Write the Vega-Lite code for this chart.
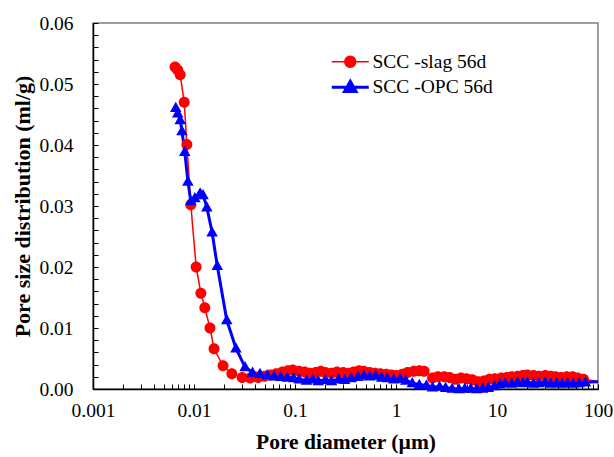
{
  "$schema": "https://vega.github.io/schema/vega-lite/v6.json",
  "width": 505,
  "height": 366,
  "autosize": "none",
  "padding": {"left": 93, "top": 23, "right": 16, "bottom": 68},
  "background": "white",
  "config": {
    "view": {"stroke": "#7f7f7f", "strokeWidth": 1.5},
    "font": "Liberation Serif",
    "axis": {
      "labelFont": "Liberation Serif",
      "titleFont": "Liberation Serif",
      "labelColor": "black",
      "titleColor": "black",
      "domainColor": "black",
      "domainWidth": 1.5,
      "tickColor": "black",
      "tickWidth": 1,
      "tickSize": -5,
      "grid": false
    },
    "legend": {
      "labelFont": "Liberation Serif",
      "labelFontSize": 19.5,
      "labelColor": "black",
      "padding": 0,
      "rowPadding": 2.5,
      "symbolOpacity": 1,
      "orient": "none",
      "legendX": 247.5,
      "legendY": 29,
      "symbolSize": 100,
      "labelOffset": 12.5
    }
  },
  "datasets": {
    "pts": [
      {"s": "SCC -slag 56d", "d": 0.0065, "v": 0.0528},
      {"s": "SCC -slag 56d", "d": 0.0069, "v": 0.0523},
      {"s": "SCC -slag 56d", "d": 0.0073, "v": 0.0515},
      {"s": "SCC -slag 56d", "d": 0.0080, "v": 0.0470},
      {"s": "SCC -slag 56d", "d": 0.0085, "v": 0.0401},
      {"s": "SCC -slag 56d", "d": 0.0093, "v": 0.0302},
      {"s": "SCC -slag 56d", "d": 0.0105, "v": 0.0200},
      {"s": "SCC -slag 56d", "d": 0.0117, "v": 0.0157},
      {"s": "SCC -slag 56d", "d": 0.0128, "v": 0.0133},
      {"s": "SCC -slag 56d", "d": 0.0144, "v": 0.0100},
      {"s": "SCC -slag 56d", "d": 0.0158, "v": 0.0066},
      {"s": "SCC -slag 56d", "d": 0.0194, "v": 0.0038},
      {"s": "SCC -slag 56d", "d": 0.0237, "v": 0.0025},
      {"s": "SCC -slag 56d", "d": 0.030, "v": 0.0019},
      {"s": "SCC -slag 56d", "d": 0.036, "v": 0.0018},
      {"s": "SCC -slag 56d", "d": 0.043, "v": 0.0019},
      {"s": "SCC -slag 56d", "d": 0.050, "v": 0.0021},
      {"s": "SCC -slag 56d", "d": 0.057, "v": 0.0023},
      {"s": "SCC -slag 56d", "d": 0.065, "v": 0.0025},
      {"s": "SCC -slag 56d", "d": 0.075, "v": 0.0028},
      {"s": "SCC -slag 56d", "d": 0.085, "v": 0.0030},
      {"s": "SCC -slag 56d", "d": 0.095, "v": 0.0031},
      {"s": "SCC -slag 56d", "d": 0.11, "v": 0.0029},
      {"s": "SCC -slag 56d", "d": 0.125, "v": 0.0028},
      {"s": "SCC -slag 56d", "d": 0.14, "v": 0.0026},
      {"s": "SCC -slag 56d", "d": 0.16, "v": 0.0027},
      {"s": "SCC -slag 56d", "d": 0.18, "v": 0.0029},
      {"s": "SCC -slag 56d", "d": 0.20, "v": 0.0027},
      {"s": "SCC -slag 56d", "d": 0.23, "v": 0.0026},
      {"s": "SCC -slag 56d", "d": 0.26, "v": 0.0028},
      {"s": "SCC -slag 56d", "d": 0.30, "v": 0.0027},
      {"s": "SCC -slag 56d", "d": 0.34, "v": 0.0026},
      {"s": "SCC -slag 56d", "d": 0.38, "v": 0.0028},
      {"s": "SCC -slag 56d", "d": 0.43, "v": 0.0030},
      {"s": "SCC -slag 56d", "d": 0.48, "v": 0.0029},
      {"s": "SCC -slag 56d", "d": 0.55, "v": 0.0027},
      {"s": "SCC -slag 56d", "d": 0.62, "v": 0.0026},
      {"s": "SCC -slag 56d", "d": 0.70, "v": 0.0025},
      {"s": "SCC -slag 56d", "d": 0.80, "v": 0.0024},
      {"s": "SCC -slag 56d", "d": 0.90, "v": 0.0023},
      {"s": "SCC -slag 56d", "d": 1.0, "v": 0.0022},
      {"s": "SCC -slag 56d", "d": 1.15, "v": 0.0024},
      {"s": "SCC -slag 56d", "d": 1.3, "v": 0.0027},
      {"s": "SCC -slag 56d", "d": 1.5, "v": 0.0029},
      {"s": "SCC -slag 56d", "d": 1.7, "v": 0.0030},
      {"s": "SCC -slag 56d", "d": 1.9, "v": 0.0029},
      {"s": "SCC -slag 56d", "d": 2.3, "v": 0.0018},
      {"s": "SCC -slag 56d", "d": 2.6, "v": 0.0020},
      {"s": "SCC -slag 56d", "d": 3.0, "v": 0.0020},
      {"s": "SCC -slag 56d", "d": 3.4, "v": 0.0019},
      {"s": "SCC -slag 56d", "d": 3.9, "v": 0.0016},
      {"s": "SCC -slag 56d", "d": 4.4, "v": 0.0018},
      {"s": "SCC -slag 56d", "d": 5.0, "v": 0.0017},
      {"s": "SCC -slag 56d", "d": 5.7, "v": 0.0015},
      {"s": "SCC -slag 56d", "d": 6.5, "v": 0.0012},
      {"s": "SCC -slag 56d", "d": 7.4, "v": 0.0013},
      {"s": "SCC -slag 56d", "d": 8.4, "v": 0.0016},
      {"s": "SCC -slag 56d", "d": 9.5, "v": 0.0017},
      {"s": "SCC -slag 56d", "d": 11, "v": 0.0018},
      {"s": "SCC -slag 56d", "d": 12.5, "v": 0.0019},
      {"s": "SCC -slag 56d", "d": 14, "v": 0.0020},
      {"s": "SCC -slag 56d", "d": 16, "v": 0.0021},
      {"s": "SCC -slag 56d", "d": 18, "v": 0.0022},
      {"s": "SCC -slag 56d", "d": 20, "v": 0.0023},
      {"s": "SCC -slag 56d", "d": 23, "v": 0.0022},
      {"s": "SCC -slag 56d", "d": 26, "v": 0.0021},
      {"s": "SCC -slag 56d", "d": 30, "v": 0.0022},
      {"s": "SCC -slag 56d", "d": 34, "v": 0.0021},
      {"s": "SCC -slag 56d", "d": 38, "v": 0.0020},
      {"s": "SCC -slag 56d", "d": 43, "v": 0.0019},
      {"s": "SCC -slag 56d", "d": 49, "v": 0.0020},
      {"s": "SCC -slag 56d", "d": 56, "v": 0.0020},
      {"s": "SCC -slag 56d", "d": 63, "v": 0.0018},
      {"s": "SCC -slag 56d", "d": 72, "v": 0.0016},
      {"s": "SCC -slag 56d", "d": 150, "v": 0.0008},
      {"s": "SCC -OPC 56d", "d": 0.0066, "v": 0.0461},
      {"s": "SCC -OPC 56d", "d": 0.0069, "v": 0.0452},
      {"s": "SCC -OPC 56d", "d": 0.0073, "v": 0.0441},
      {"s": "SCC -OPC 56d", "d": 0.0076, "v": 0.0423},
      {"s": "SCC -OPC 56d", "d": 0.0081, "v": 0.0389},
      {"s": "SCC -OPC 56d", "d": 0.0087, "v": 0.0340},
      {"s": "SCC -OPC 56d", "d": 0.0093, "v": 0.0308},
      {"s": "SCC -OPC 56d", "d": 0.0102, "v": 0.0313},
      {"s": "SCC -OPC 56d", "d": 0.0115, "v": 0.0321},
      {"s": "SCC -OPC 56d", "d": 0.0123, "v": 0.0318},
      {"s": "SCC -OPC 56d", "d": 0.0134, "v": 0.0298},
      {"s": "SCC -OPC 56d", "d": 0.0151, "v": 0.0257},
      {"s": "SCC -OPC 56d", "d": 0.0170, "v": 0.0202},
      {"s": "SCC -OPC 56d", "d": 0.0211, "v": 0.0113},
      {"s": "SCC -OPC 56d", "d": 0.026, "v": 0.0067},
      {"s": "SCC -OPC 56d", "d": 0.032, "v": 0.0036},
      {"s": "SCC -OPC 56d", "d": 0.038, "v": 0.0027},
      {"s": "SCC -OPC 56d", "d": 0.045, "v": 0.0025},
      {"s": "SCC -OPC 56d", "d": 0.053, "v": 0.0023},
      {"s": "SCC -OPC 56d", "d": 0.062, "v": 0.0021},
      {"s": "SCC -OPC 56d", "d": 0.072, "v": 0.0020},
      {"s": "SCC -OPC 56d", "d": 0.084, "v": 0.0019},
      {"s": "SCC -OPC 56d", "d": 0.097, "v": 0.0018},
      {"s": "SCC -OPC 56d", "d": 0.11, "v": 0.0016},
      {"s": "SCC -OPC 56d", "d": 0.13, "v": 0.0014},
      {"s": "SCC -OPC 56d", "d": 0.15, "v": 0.0016},
      {"s": "SCC -OPC 56d", "d": 0.17, "v": 0.0013},
      {"s": "SCC -OPC 56d", "d": 0.20, "v": 0.0015},
      {"s": "SCC -OPC 56d", "d": 0.23, "v": 0.0013},
      {"s": "SCC -OPC 56d", "d": 0.27, "v": 0.0016},
      {"s": "SCC -OPC 56d", "d": 0.31, "v": 0.0015},
      {"s": "SCC -OPC 56d", "d": 0.36, "v": 0.0018},
      {"s": "SCC -OPC 56d", "d": 0.42, "v": 0.0020},
      {"s": "SCC -OPC 56d", "d": 0.48, "v": 0.0022},
      {"s": "SCC -OPC 56d", "d": 0.55, "v": 0.0021},
      {"s": "SCC -OPC 56d", "d": 0.63, "v": 0.0022},
      {"s": "SCC -OPC 56d", "d": 0.72, "v": 0.0019},
      {"s": "SCC -OPC 56d", "d": 0.82, "v": 0.0018},
      {"s": "SCC -OPC 56d", "d": 0.95, "v": 0.0016},
      {"s": "SCC -OPC 56d", "d": 1.1, "v": 0.0017},
      {"s": "SCC -OPC 56d", "d": 1.25, "v": 0.0014},
      {"s": "SCC -OPC 56d", "d": 1.45, "v": 0.0010},
      {"s": "SCC -OPC 56d", "d": 1.7, "v": 0.0007},
      {"s": "SCC -OPC 56d", "d": 2.0, "v": 0.0006},
      {"s": "SCC -OPC 56d", "d": 2.3, "v": 0.0003},
      {"s": "SCC -OPC 56d", "d": 2.7, "v": 0.0004},
      {"s": "SCC -OPC 56d", "d": 3.1, "v": 0.0002},
      {"s": "SCC -OPC 56d", "d": 3.6, "v": 0.0001},
      {"s": "SCC -OPC 56d", "d": 4.2, "v": 0.0000},
      {"s": "SCC -OPC 56d", "d": 4.8, "v": 0.0001},
      {"s": "SCC -OPC 56d", "d": 5.5, "v": 0.0001},
      {"s": "SCC -OPC 56d", "d": 6.3, "v": 0.0000},
      {"s": "SCC -OPC 56d", "d": 7.2, "v": 0.0001},
      {"s": "SCC -OPC 56d", "d": 8.2, "v": 0.0002},
      {"s": "SCC -OPC 56d", "d": 9.4, "v": 0.0005},
      {"s": "SCC -OPC 56d", "d": 10.7, "v": 0.0008},
      {"s": "SCC -OPC 56d", "d": 12, "v": 0.0010},
      {"s": "SCC -OPC 56d", "d": 14, "v": 0.0009},
      {"s": "SCC -OPC 56d", "d": 16, "v": 0.0011},
      {"s": "SCC -OPC 56d", "d": 18, "v": 0.0010},
      {"s": "SCC -OPC 56d", "d": 20, "v": 0.0011},
      {"s": "SCC -OPC 56d", "d": 23, "v": 0.0009},
      {"s": "SCC -OPC 56d", "d": 26, "v": 0.0010},
      {"s": "SCC -OPC 56d", "d": 30, "v": 0.0011},
      {"s": "SCC -OPC 56d", "d": 34, "v": 0.0009},
      {"s": "SCC -OPC 56d", "d": 39, "v": 0.0010},
      {"s": "SCC -OPC 56d", "d": 44, "v": 0.0009},
      {"s": "SCC -OPC 56d", "d": 50, "v": 0.0010},
      {"s": "SCC -OPC 56d", "d": 57, "v": 0.0009},
      {"s": "SCC -OPC 56d", "d": 65, "v": 0.0010},
      {"s": "SCC -OPC 56d", "d": 75, "v": 0.0011},
      {"s": "SCC -OPC 56d", "d": 150, "v": 0.0013}
    ]
  },
  "data": {"name": "pts"},
  "encoding": {
    "x": {
      "field": "d", "type": "quantitative",
      "scale": {"type": "log", "domain": [0.001, 100], "nice": false},
      "axis": {
        "title": "Pore diameter (\u00b5m)",
        "values": [0.001,0.002,0.003,0.004,0.005,0.006,0.007,0.008,0.009,0.01,0.02,0.03,0.04,0.05,0.06,0.07,0.08,0.09,0.1,0.2,0.3,0.4,0.5,0.6,0.7,0.8,0.9,1,2,3,4,5,6,7,8,9,10,20,30,40,50,60,70,80,90,100],
        "labelExpr": "indexof(['0.001','0.01','0.1','1','10','100'], format(datum.value, '~g')) >= 0 ? format(datum.value, '~g') : ''",
        "labelFont": "Liberation Serif",
        "titleFont": "Liberation Serif",
        "labelFontSize": 19.5,
        "titleFontSize": 21.5,
        "titleFontWeight": "bold",
        "labelPadding": 17,
        "labelFlush": false,
        "labelOverlap": false,
        "titlePadding": 12
      }
    },
    "y": {
      "field": "v", "type": "quantitative",
      "scale": {"domain": [0, 0.06], "nice": false, "zero": true},
      "axis": {
        "title": "Pore size distribution  (ml/g)",
        "values": [0,0.002,0.004,0.006,0.008,0.01,0.012,0.014,0.016,0.018,0.02,0.022,0.024,0.026,0.028,0.03,0.032,0.034,0.036,0.038,0.04,0.042,0.044,0.046,0.048,0.05,0.052,0.054,0.056,0.058,0.06],
        "labelExpr": "abs(datum.value*100 - round(datum.value*100)) < 0.001 ? format(datum.value, '.2f') : ''",
        "labelFont": "Liberation Serif",
        "titleFont": "Liberation Serif",
        "labelFontSize": 19.5,
        "titleFontSize": 22,
        "titleFontWeight": "bold",
        "labelPadding": 25,
        "labelOverlap": false,
        "labelFlush": false,
        "titlePadding": 4
      }
    }
  },
  "layer": [
    {
      "mark": {"type": "line", "clip": true},
      "encoding": {
        "stroke": {
          "field": "s", "type": "nominal",
          "scale": {"domain": ["SCC -slag 56d", "SCC -OPC 56d"], "range": ["#FF0000", "#0000FF"]},
          "legend": {"title": null}
        },
        "strokeWidth": {
          "field": "s", "type": "nominal",
          "scale": {"domain": ["SCC -slag 56d", "SCC -OPC 56d"], "range": [1.5, 3]},
          "legend": {"title": null}
        }
      }
    },
    {
      "transform": [{"filter": "datum.d <= 100"}],
      "mark": {"type": "point", "filled": true, "opacity": 1, "size": 100},
      "encoding": {
        "fill": {
          "field": "s", "type": "nominal",
          "scale": {"domain": ["SCC -slag 56d", "SCC -OPC 56d"], "range": ["#FF0000", "#0000FF"]},
          "legend": {"title": null}
        },
        "shape": {
          "field": "s", "type": "nominal",
          "scale": {
            "domain": ["SCC -slag 56d", "SCC -OPC 56d"],
            "range": [
              "M-3.7,0L3.7,0M1.1,0A1.1,1.1,0,1,1,-1.1,0A1.1,1.1,0,1,1,1.1,0Z",
              "M-3.7,0L3.7,0M0,-1.2L1.15,0.85L-1.15,0.85Z"
            ]
          },
          "legend": {"title": null}
        }
      }
    }
  ]
}
